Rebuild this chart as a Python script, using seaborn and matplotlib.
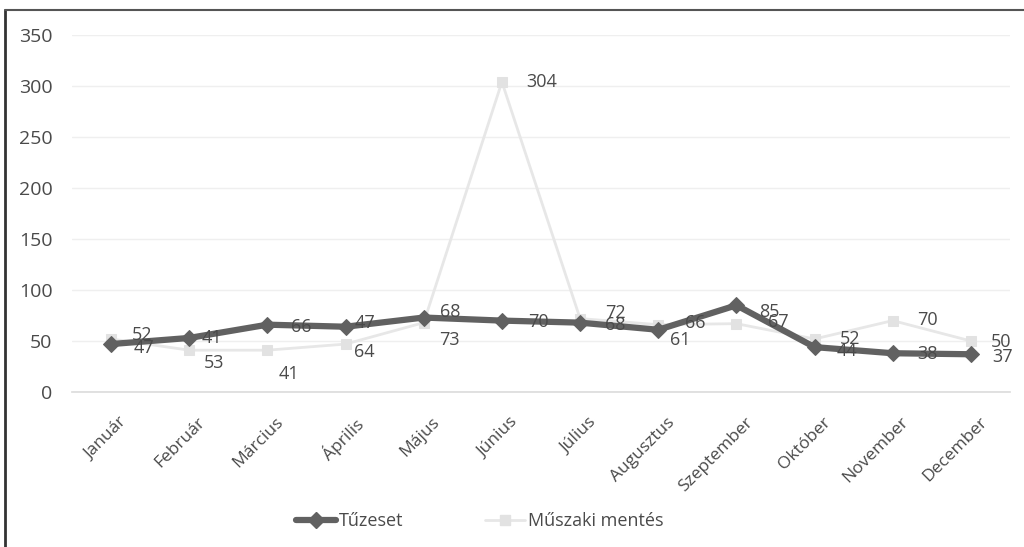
import numpy as np
import pandas as pd
import matplotlib.pyplot as plt
import seaborn as sns
from matplotlib.lines import Line2D
from matplotlib.transforms import ScaledTranslation

# ------------------------------------------------------------
# Adatok (havi esetszámok)
# ------------------------------------------------------------

honapok = ["Január", "Február", "Március", "Április", "Május", "Június",
           "Július", "Augusztus", "Szeptember", "Október", "November", "December"]
tuzeset = [47, 53, 66, 64, 73, 70, 68, 61, 85, 44, 38, 37]
muszaki = [52, 41, 41, 47, 68, 304, 72, 66, 67, 52, 70, 50]

# címkék eltolása pixelben (ahogy a nyomtatott ábrán állnak)
tuz_off = [(33, -4), (25, -25), (34, -2), (19, -25), (26, -22), (37, -1),
           (35, -2), (22, -10), (33, -7), (32, -4), (35, -1), (32, -3)]
musz_off = [(31, 4), (23, 12), (22, -24), (19, 21), (26, 11), (40, 0),
            (35, 6), (37, 2), (42, 2), (35, 0), (35, 1), (30, -1)]

df = pd.DataFrame({"Hónap": honapok, "Tűzeset": tuzeset, "Műszaki mentés": muszaki})

sns.set_theme(style="white")
plt.rcParams["font.family"] = ["Open Sans", "DejaVu Sans"]

sotet = "#616161"
vilagos = "#e7e7e7"
szoveg = "#4a4a4a"

fig = plt.figure(figsize=(10.24, 5.47), dpi=100)
ax = fig.add_axes([72 / 1024, 155 / 547, 938 / 1024, 357 / 547])

# ------------------------------------------------------------
# Vonalak
# ------------------------------------------------------------

sns.lineplot(data=df, x="Hónap", y="Műszaki mentés", sort=False, ax=ax,
             color=vilagos, linewidth=2, marker="s", markersize=7,
             markeredgecolor="#e2e2e2", markerfacecolor="#e2e2e2", zorder=2)
sns.lineplot(data=df, x="Hónap", y="Tűzeset", sort=False, ax=ax,
             color=sotet, linewidth=4.5, marker="D", markersize=8,
             markeredgecolor=sotet, zorder=3)

# adatcímkék
for i, v in enumerate(muszaki):
    ax.annotate(str(v), (i, v), xytext=musz_off[i], textcoords="offset pixels",
                ha="center", va="center", fontsize=13, color=szoveg, zorder=4)
for i, v in enumerate(tuzeset):
    ax.annotate(str(v), (i, v), xytext=tuz_off[i], textcoords="offset pixels",
                ha="center", va="center", fontsize=13, color=szoveg, zorder=4)

# ------------------------------------------------------------
# Tengelyek
# ------------------------------------------------------------

ax.set_xlim(-0.5, len(honapok) - 0.5)
ax.set_ylim(0, 350)
ax.set_yticks(np.arange(0, 351, 50))
ax.yaxis.grid(True, color="#efefef", linewidth=1)
ax.set_xlabel("")
ax.set_ylabel("")
for s in ["top", "right", "left"]:
    ax.spines[s].set_visible(False)
ax.spines["bottom"].set_color("#dddddd")
ax.tick_params(axis="y", length=0, pad=14, labelsize=14, labelcolor=szoveg)
ax.tick_params(axis="x", length=0, pad=16, labelsize=12.5, labelcolor=szoveg)
eltolas = ScaledTranslation(8 / 100, 0, fig.dpi_scale_trans)
for t in ax.get_xticklabels():
    t.set_rotation(45)
    t.set_ha("right")
    t.set_va("top")
    t.set_rotation_mode("anchor")
    t.set_transform(t.get_transform() + eltolas)

# jelmagyarázat
kezelok = [Line2D([], [], color=sotet, linewidth=4.5, marker="D", markersize=8),
           Line2D([], [], color=vilagos, linewidth=2, marker="s", markersize=7,
                  markerfacecolor="#e2e2e2", markeredgecolor="#e2e2e2")]
fig.legend(kezelok, ["Tűzeset", "Műszaki mentés"], loc="center",
           bbox_to_anchor=(480 / 1024, 1 - 521 / 547), ncol=2, frameon=False,
           fontsize=13, labelcolor=szoveg, handlelength=2.2, columnspacing=4.5,
           handletextpad=0.2)

# a diagram kerete
fig.add_artist(Line2D([5 / 1024, 5 / 1024], [0, 1 - 10 / 547],
                      transform=fig.transFigure, color="#333333", linewidth=2))
fig.add_artist(Line2D([5 / 1024, 1], [1 - 10 / 547, 1 - 10 / 547],
                      transform=fig.transFigure, color="#555555", linewidth=1.5))

fig.savefig("out.png", dpi=100)
